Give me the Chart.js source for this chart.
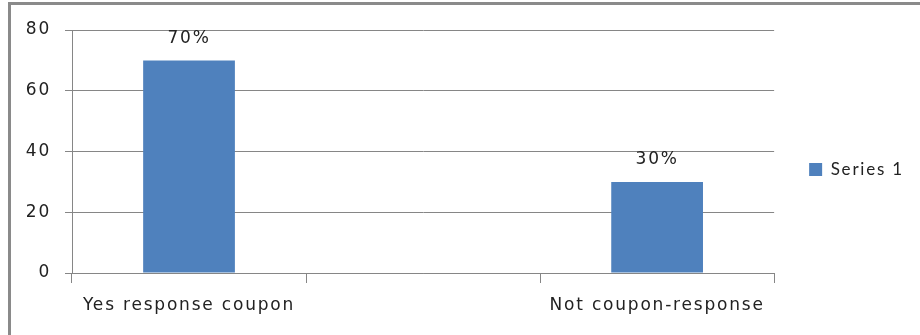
<!DOCTYPE html>
<html>
<head>
<meta charset="utf-8">
<script src="https://cdn.jsdelivr.net/npm/chart.js@4.4.1/dist/chart.umd.min.js"></script>
<style>
html,body{margin:0;padding:0;background:#fff;}
#wrap{position:relative;width:920px;height:335px;}
canvas{display:block;}
</style>
</head>
<body>
<div id="wrap"><canvas id="c" width="920" height="335"></canvas></div>
<script>
const categories = ["Yes response coupon", "", "Not coupon-response"];
const seriesName = "Series 1";
const seriesValues = [70, null, 30];
const valueLabels = ["70%", "", "30%"];
const yTicks = [0, 20, 40, 60, 80];

const FONT = "'DejaVu Sans', sans-serif";
const LS = '1.8px';
const spacing = {
  id: 'spacing',
  beforeUpdate(chart){ chart.ctx.letterSpacing = LS; },
  beforeLayout(chart){ chart.ctx.letterSpacing = LS; },
  afterLayout(chart){
    if (chart.legend) chart.legend.bottom -= 26;
  },
  beforeDraw(chart){ chart.ctx.letterSpacing = LS; },
  afterDraw(chart){
    const ctx = chart.ctx;
    ctx.save();
    ctx.letterSpacing = '0px';
    ctx.strokeStyle = '#8a8a8a';
    ctx.lineWidth = 3;
    ctx.beginPath();
    ctx.moveTo(9.5, 335);
    ctx.lineTo(9.5, 3.5);
    ctx.lineTo(920, 3.5);
    ctx.stroke();
    ctx.restore();
  }
};
const valueLabelPlugin = {
  id: 'valueLabels',
  afterDatasetsDraw(chart){
    const ctx = chart.ctx;
    const meta = chart.getDatasetMeta(0);
    ctx.save();
    ctx.letterSpacing = LS;
    ctx.font = "17px " + FONT;
    ctx.fillStyle = '#222';
    ctx.textAlign = 'center';
    ctx.textBaseline = 'middle';
    meta.data.forEach((bar, i) => {
      if (seriesValues[i] == null) return;
      ctx.fillText(valueLabels[i], bar.x, bar.y - 22);
    });
    ctx.restore();
  }
};

new Chart(document.getElementById('c'), {
  type: 'bar',
  data: {
    labels: categories,
    datasets: [{
      label: seriesName,
      data: seriesValues,
      backgroundColor: '#4F81BD',
      borderWidth: 0,
      categoryPercentage: 1.0,
      barPercentage: 0.392
    }]
  },
  options: {
    responsive: false,
    animation: false,
    devicePixelRatio: 1,
    layout: { padding: { left: 14, right: 6, top: 30, bottom: 0 } },
    plugins: {
      tooltip: { enabled: false },
      legend: {
        position: 'right',
        labels: {
          boxWidth: 13, boxHeight: 13, padding: 35,
          color: '#222',
          font: { family: "Lato, sans-serif", size: 17 }
        }
      }
    },
    scales: {
      x: {
        afterFit(scale){ scale.height = 62; },
        grid: { display: true, drawOnChartArea: false, drawTicks: true, tickLength: 10, color: '#868686', lineWidth: 1 },
        border: { display: true, color: '#868686', width: 1 },
        ticks: { color: '#222', font: { family: FONT, size: 17 }, padding: 12, maxRotation: 0, autoSkip: false }
      },
      y: {
        min: 0, max: 80,
        afterFit(scale){ scale.width = 58; },
        afterBuildTicks(scale){ scale.ticks = yTicks.map(v => ({ value: v })); },
        grid: { color: '#868686', lineWidth: 1, drawTicks: true, tickLength: 7 },
        border: { display: true, color: '#868686', width: 1 },
        ticks: { color: '#222', font: { family: FONT, size: 17 }, padding: 14 }
      }
    }
  },
  plugins: [spacing, valueLabelPlugin]
});
</script>
</body>
</html>
